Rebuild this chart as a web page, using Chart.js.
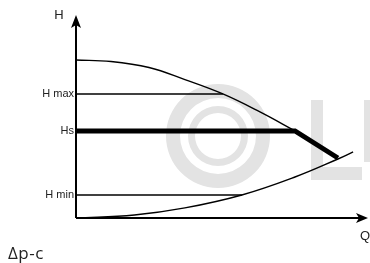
<!DOCTYPE html>
<html>
<head>
<meta charset="utf-8">
<script src="https://cdn.jsdelivr.net/npm/chart.js@4.4.1/dist/chart.umd.min.js"></script>
<style>
  html, body { margin: 0; padding: 0; background: #fff; }
  #wrap { width: 370px; height: 263px; }
</style>
</head>
<body>
<div id="wrap"><canvas id="chart"></canvas></div>
<script>
// Q and H as % of the axis length
const pumpQ = [0, 12, 25, 37.3, 50.3, 63, 75];
const pumpH = [78.2, 77.5, 74.5, 68.5, 61.4, 52.5, 43.1];
const systemQ = [0, 20, 37.3, 56.8, 75, 89.7, 94.9];
const systemH = [0, 1.5, 5, 11.4, 20.3, 29.2, 32.7];
const controlQ = [0, 75, 89.7];
const controlH = [43.1, 43.1, 29.7];
const hMax = 61.4, hMaxEnd = 50.3;
const hMin = 11.4, hMinEnd = 56.8;
const tickValues = [hMin, 43.1, hMax];
const tickLabels = ['H min', 'Hs', 'H max'];

const pts = (xs, ys) => xs.map((x, i) => ({ x: x, y: ys[i] }));

// grey logo in the background + arrows and labels
const decor = {
  id: 'decor',
  beforeDatasetsDraw(chart) {
    const ctx = chart.ctx;
    ctx.save();
    ctx.fillStyle = '#e3e3e3';
    ctx.beginPath();
    ctx.arc(218, 136, 52, 0, Math.PI * 2);
    ctx.arc(218, 136, 38, 0, Math.PI * 2, true);
    ctx.fill();
    ctx.beginPath();
    ctx.arc(218, 136, 30, 0, Math.PI * 2);
    ctx.arc(218, 136, 23, 0, Math.PI * 2, true);
    ctx.fill();
    ctx.fillRect(311, 100, 12, 80);
    ctx.fillRect(311, 167, 51, 13);
    ctx.fillRect(364, 100, 6, 62);
    ctx.restore();
  },
  afterDatasetsDraw(chart) {
    const ctx = chart.ctx;
    const a = chart.chartArea;
    ctx.save();
    ctx.strokeStyle = '#000';
    ctx.fillStyle = '#000';
    ctx.lineWidth = 2;
    ctx.beginPath();
    ctx.moveTo(a.left, a.bottom);
    ctx.lineTo(a.left, a.top + 6);
    ctx.moveTo(a.left, a.bottom);
    ctx.lineTo(a.right - 6, a.bottom);
    ctx.stroke();
    // arrow heads
    ctx.beginPath();
    ctx.moveTo(a.left, a.top - 1);
    ctx.lineTo(a.left + 5, a.top + 12);
    ctx.lineTo(a.left, a.top + 9);
    ctx.lineTo(a.left - 5, a.top + 12);
    ctx.closePath();
    ctx.fill();
    ctx.beginPath();
    ctx.moveTo(a.right, a.bottom);
    ctx.lineTo(a.right - 12, a.bottom - 5);
    ctx.lineTo(a.right - 9, a.bottom);
    ctx.lineTo(a.right - 12, a.bottom + 5);
    ctx.closePath();
    ctx.fill();

    ctx.fillStyle = '#222';
    ctx.font = '13px "Liberation Sans"';
    ctx.textAlign = 'center';
    ctx.textBaseline = 'middle';
    ctx.fillText('H', 59, 15);
    ctx.fillText('Q', 365, 236);
    ctx.font = '17px "Open Sans"';
    ctx.letterSpacing = '0.5px';
    ctx.textAlign = 'left';
    ctx.textBaseline = 'alphabetic';
    ctx.fillText('Δp-c', 8, 259);
    ctx.restore();
  }
};

new Chart(document.getElementById('chart'), {
  type: 'line',
  data: {
    datasets: [
      { data: pts(pumpQ, pumpH), borderColor: '#000', borderWidth: 1.4, tension: 0.4, pointRadius: 0 },
      { data: pts(systemQ, systemH), borderColor: '#000', borderWidth: 1.4, tension: 0.4, pointRadius: 0 },
      { data: [{ x: 0, y: hMax }, { x: hMaxEnd, y: hMax }], borderColor: '#000', borderWidth: 1.4, pointRadius: 0 },
      { data: [{ x: 0, y: hMin }, { x: hMinEnd, y: hMin }], borderColor: '#000', borderWidth: 1.4, pointRadius: 0 },
      { data: pts(controlQ, controlH), borderColor: '#000', borderWidth: 5, borderJoinStyle: 'miter', pointRadius: 0 }
    ]
  },
  options: {
    responsive: true,
    maintainAspectRatio: false,
    animation: false,
    events: [],
    layout: { padding: { top: 16, right: 2, bottom: 45, left: 0 } },
    plugins: { legend: { display: false }, tooltip: { enabled: false } },
    scales: {
      x: { type: 'linear', min: 0, max: 100, display: false },
      y: {
        type: 'linear', min: 0, max: 100,
        afterBuildTicks: (s) => { s.ticks = tickValues.map(v => ({ value: v })); },
        afterFit: (s) => { s.width = 76; },
        grid: { display: false, drawTicks: false },
        border: { display: false },
        ticks: {
          padding: 2,
          color: '#222',
          font: { family: 'Liberation Sans', size: 11 },
          callback: (v) => tickLabels[tickValues.indexOf(v)]
        }
      }
    }
  },
  plugins: [decor]
});
</script>
</body>
</html>
